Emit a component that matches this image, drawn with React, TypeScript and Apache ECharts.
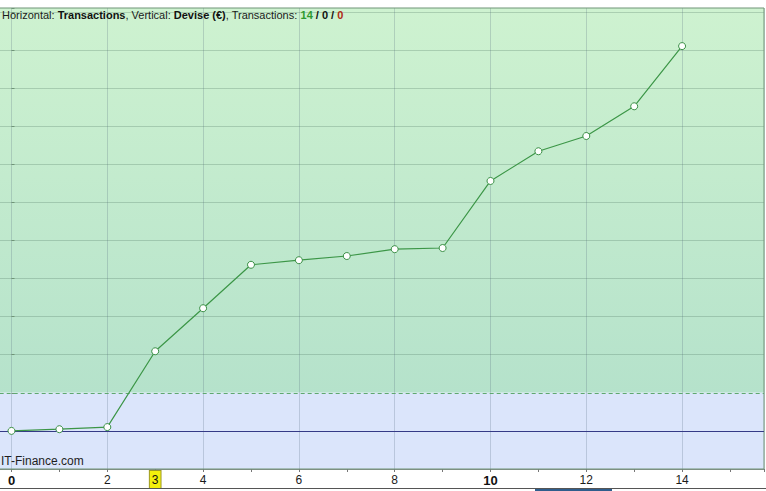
import React, { useEffect, useRef } from "react";
import * as echarts from "echarts";

// ---- data ----
const transactions = [0, 1, 2, 3, 4, 5, 6, 7, 8, 9, 10, 11, 12, 13, 14];
const balance = [0, 4.5, 10, 209, 322, 436, 448, 459, 477, 480, 656, 734, 774, 852, 1010];
const xMin = -2;
const xMax = 15.71;
const yMin = -100;
const yMax = 1110;
const yStep = 100;
const xStep = 2;
const zeroLevel = 0;
const thresholdLevel = 100;
const highlightedX = 3;
const boldX = [0, 10];
const yTicks = [-100, 0, 100, 200, 300, 400, 500, 600, 700, 800, 900, 1000, 1100, 1110];
const titleParts = {
  h: "Horizontal: ",
  hv: "Transactions",
  v: ", Vertical: ",
  vv: "Devise (€)",
  t: ", Transactions: ",
  won: "14",
  even: "0",
  lost: "0",
};
const watermark = "IT-Finance.com";

const FONT = "'Liberation Sans', Arial, sans-serif";

export default function App() {
  const ref = useRef<HTMLDivElement>(null);
  useEffect(() => {
    if (!ref.current) return;
    const chart = echarts.init(ref.current, undefined, { renderer: "svg" });
    const gridColor = "rgba(70,110,90,0.26)";
    const vGridColor = "rgba(80,100,120,0.24)";
    const ySplitColors = yTicks.map((v) =>
      v <= thresholdLevel || v >= yMax ? "rgba(0,0,0,0)" : gridColor
    );
    const pts = transactions.map((x, i) => [x, balance[i]]);
    chart.setOption({
      animation: false,
      grid: {
        left: -84.3,
        right: 2,
        top: 8,
        bottom: 22,
        show: true,
        backgroundColor: "rgba(0,0,0,0)",
        borderColor: "#6f9477",
        borderWidth: 1,
        z: 3,
        outerBoundsMode: "none",
        containLabel: false,
      },
      xAxis: [
        {
          type: "value",
          min: xMin,
          max: xMax,
          interval: xStep,
          z: 2,
          axisLine: { show: true, onZero: false, lineStyle: { color: "#8c8c8c", width: 1 } },
          axisTick: { show: true, length: 3, lineStyle: { color: "#777" } },
          minorTick: { show: true, splitNumber: 2, length: 3, lineStyle: { color: "#777" } },
          splitLine: { show: true, lineStyle: { color: vGridColor, width: 1 } },
          axisLabel: {
            margin: 5,
            fontSize: 12,
            fontFamily: FONT,
            color: "#1a1a1a",
            showMaxLabel: false,
            formatter: (v: number) => {
              if (v < 0 || !Number.isInteger(v) || v % xStep !== 0) return "";
              return boldX.includes(v) ? `{b|${v}}` : `${v}`;
            },
            rich: {
              b: { fontWeight: "bold", fontSize: 13, fontFamily: FONT, color: "#111" },
            },
          },
        },
        {
          type: "value",
          position: "bottom",
          min: xMin,
          max: xMax,
          interval: 1,
          z: 2,
          axisLine: { show: false },
          axisTick: { show: false },
          splitLine: { show: false },
          axisLabel: {
            margin: 2,
            fontSize: 12,
            fontFamily: FONT,
            showMaxLabel: false,
            formatter: (v: number) => (v === highlightedX ? `{h|${v}}` : ""),
            rich: {
              h: {
                backgroundColor: "#f4f00c",
                borderColor: "#9d9a2a",
                borderWidth: 1,
                padding: [3, 2, 2, 2],
                color: "#111",
                fontSize: 12,
                fontFamily: FONT,
              },
            },
          },
        },
      ],
      yAxis: {
        type: "value",
        position: "right",
        min: yMin,
        max: yMax,
        interval: yStep,
        z: 2,
        axisLine: { show: false },
        axisTick: { show: true, length: 3, lineStyle: { color: "#6f9477" } },
        axisLabel: { show: false },
        splitLine: { show: true, lineStyle: { color: ySplitColors, width: 1 } },
      },
      graphic: [
        {
          type: "text",
          left: 2,
          top: 9,
          z: 20,
          style: {
            text:
              `{n|${titleParts.h}}{b|${titleParts.hv}}{n|${titleParts.v}}{b|${titleParts.vv}}` +
              `{n|${titleParts.t}}{g|${titleParts.won}}{b| / ${titleParts.even} / }{r|${titleParts.lost}}`,
            rich: {
              n: { fontSize: 11, fontFamily: FONT, fill: "#1a1a1a" },
              b: { fontSize: 11, fontFamily: FONT, fontWeight: "bold", fill: "#111" },
              g: { fontSize: 11, fontFamily: FONT, fontWeight: "bold", fill: "#2f9a2f" },
              r: { fontSize: 11, fontFamily: FONT, fontWeight: "bold", fill: "#b02a14" },
            },
          },
        },
        {
          type: "text",
          left: 1,
          top: 455,
          z: 20,
          style: { text: watermark, fontSize: 12, fontFamily: FONT, fill: "#1e1e1e" },
        },
        {
          type: "rect",
          left: 0,
          top: 488,
          z: 20,
          shape: { width: 766, height: 1 },
          style: { fill: "#555" },
        },
        {
          type: "rect",
          left: 535,
          top: 489,
          z: 20,
          shape: { width: 77, height: 2 },
          style: { fill: "#2f5d8c" },
        },
      ],
      series: [
        {
          type: "line",
          name: "bg",
          z: 0,
          silent: true,
          data: pts,
          showSymbol: false,
          symbol: "none",
          lineStyle: { width: 0, opacity: 0 },
          markArea: {
            silent: true,
            data: [
              [
                {
                  xAxis: xMin,
                  yAxis: thresholdLevel,
                  itemStyle: {
                    color: new echarts.graphic.LinearGradient(0, 0, 0, 1, [
                      { offset: 0, color: "#cef2d0" },
                      { offset: 1, color: "#b5e2cb" },
                    ]),
                  },
                },
                { xAxis: xMax, yAxis: yMax },
              ],
              [
                { xAxis: xMin, yAxis: yMin, itemStyle: { color: "#dbe5fb" } },
                { xAxis: xMax, yAxis: thresholdLevel },
              ],
            ],
          },
        },
        {
          type: "line",
          name: "Devise",
          z: 5,
          data: pts,
          symbol: "circle",
          symbolSize: 7,
          showSymbol: true,
          lineStyle: { color: "#3c9647", width: 1.2 },
          itemStyle: { color: "#ffffff", borderColor: "#3a8f45", borderWidth: 1 },
          markLine: {
            silent: true,
            symbol: "none",
            label: { show: false },
            data: [
              { yAxis: zeroLevel, lineStyle: { color: "#353a86", width: 1, type: "solid" } },
              { yAxis: thresholdLevel, lineStyle: { color: "#5fa86f", width: 1, type: [4, 3] } },
            ],
          },
        },
      ],
    });
    return () => chart.dispose();
  }, []);
  return (
    <div
      ref={ref}
      style={{ position: "fixed", left: 0, top: 0, width: 766, height: 491, background: "#fff" }}
    />
  );
}
